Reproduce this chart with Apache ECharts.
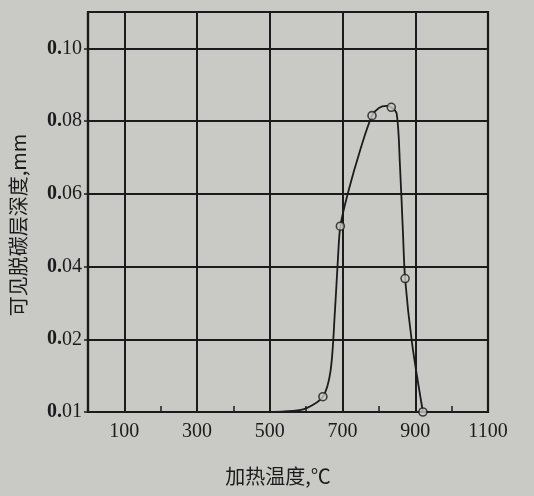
<!DOCTYPE html>
<html><head><meta charset="utf-8">
<script src="https://cdn.jsdelivr.net/npm/echarts@6/dist/echarts.min.js"></script>
<style>html,body{margin:0;padding:0;background:#c9c9c5}#c{width:534px;height:496px}</style>
</head><body><div id="c"></div>
<script>
// Curve trace (temperature °C, depth mm)
const curveX = [484, 564, 600, 646, 667, 679, 687, 694, 715, 749, 781, 800, 820, 834, 849, 858, 866, 872, 891, 921];
const curveY = [0, 0.0003, 0.001, 0.0042, 0.0113, 0.0276, 0.0416, 0.0511, 0.0603, 0.0722, 0.0815, 0.0836, 0.0842, 0.0838, 0.082, 0.0676, 0.0496, 0.0367, 0.019, 0];
// Measured points (open circles)
const pointX = [646, 694, 781, 834, 872, 921];
const pointY = [0.0042, 0.0511, 0.0815, 0.0838, 0.0367, 0];
// Axis ticks and labels
const xLabelValues = [100, 300, 500, 700, 900, 1100];
const xMinorTicks = [200, 400, 600, 800, 1000];
const yTickValues = [0, 0.02, 0.04, 0.06, 0.08, 0.10];
const yTickLabels = ['0.01', '0.02', '0.04', '0.06', '0.08', '0.10'];
const xName = '加热温度,℃';
const yName = '可见脱碳层深度,mm';

const ink = '#1b1b1b';
const paper = '#c9c9c5';
const serif = '"Liberation Serif", "DejaVu Serif", serif';
const cjk = '"Noto Sans CJK SC", sans-serif';

const chart = echarts.init(document.getElementById('c'));
chart.setOption({
  backgroundColor: paper,
  animation: false,
  grid: {left: 83, right: 46, top: 12, bottom: 84, show: true, borderColor: ink, borderWidth: 2.2, backgroundColor: 'transparent'},
  xAxis: [{
    type: 'value', min: 0, max: 1100, position: 'bottom',
    name: xName, nameLocation: 'middle', nameGap: 54,
    nameTextStyle: {fontFamily: cjk, fontSize: 20, color: ink, padding: [0, 20, 0, 0]},
    axisLine: {show: true, lineStyle: {color: ink, width: 2.2}},
    axisTick: {show: true, inside: true, length: 6, customValues: xMinorTicks, lineStyle: {color: ink, width: 1.5}},
    axisLabel: {customValues: xLabelValues, fontFamily: serif, fontSize: 20, color: ink, margin: 10,
      formatter: function (v) { return String(v); }},
    splitLine: {show: false}
  }, {
    type: 'value', min: 0, max: 1100, position: 'top',
    axisLine: {show: false},
    axisTick: {show: false, customValues: xLabelValues},
    axisLabel: {show: false},
    splitLine: {show: true, lineStyle: {color: ink, width: 2}}
  }],
  yAxis: {
    type: 'value', min: 0, max: 0.11,
    name: yName, nameLocation: 'middle', nameGap: 60, nameRotate: 90,
    nameTextStyle: {fontFamily: cjk, fontSize: 20, color: ink, padding: [0, 26, 0, 0]},
    axisLine: {show: true, lineStyle: {color: ink, width: 2.2}},
    axisTick: {show: true, inside: false, length: 4, customValues: yTickValues, lineStyle: {color: ink, width: 1.5}},
    axisLabel: {
      customValues: yTickValues, margin: 6, color: ink,
      formatter: function (v) {
        let i = yTickValues.findIndex(t => Math.abs(t - v) < 1e-9);
        const s = i >= 0 ? yTickLabels[i] : '';
        return '{b|' + s.slice(0, 2) + '}{n|' + s.slice(2) + '}';
      },
      rich: {
        b: {fontFamily: serif, fontSize: 20, fontWeight: 'bold', color: ink},
        n: {fontFamily: serif, fontSize: 20, color: ink}
      }
    },
    splitLine: {show: true, lineStyle: {color: ink, width: 2}}
  },
  series: [{
    type: 'line', xAxisIndex: 0,
    data: curveX.map((x, i) => [x, curveY[i]]),
    smooth: 0.3, showSymbol: false, symbol: 'none',
    lineStyle: {color: ink, width: 1.8}, z: 3
  }, {
    type: 'scatter', xAxisIndex: 0,
    data: pointX.map((x, i) => [x, pointY[i]]),
    symbol: 'circle', symbolSize: 8,
    itemStyle: {color: paper, borderColor: ink, borderWidth: 1.6}, z: 4
  }]
});
</script></body></html>
